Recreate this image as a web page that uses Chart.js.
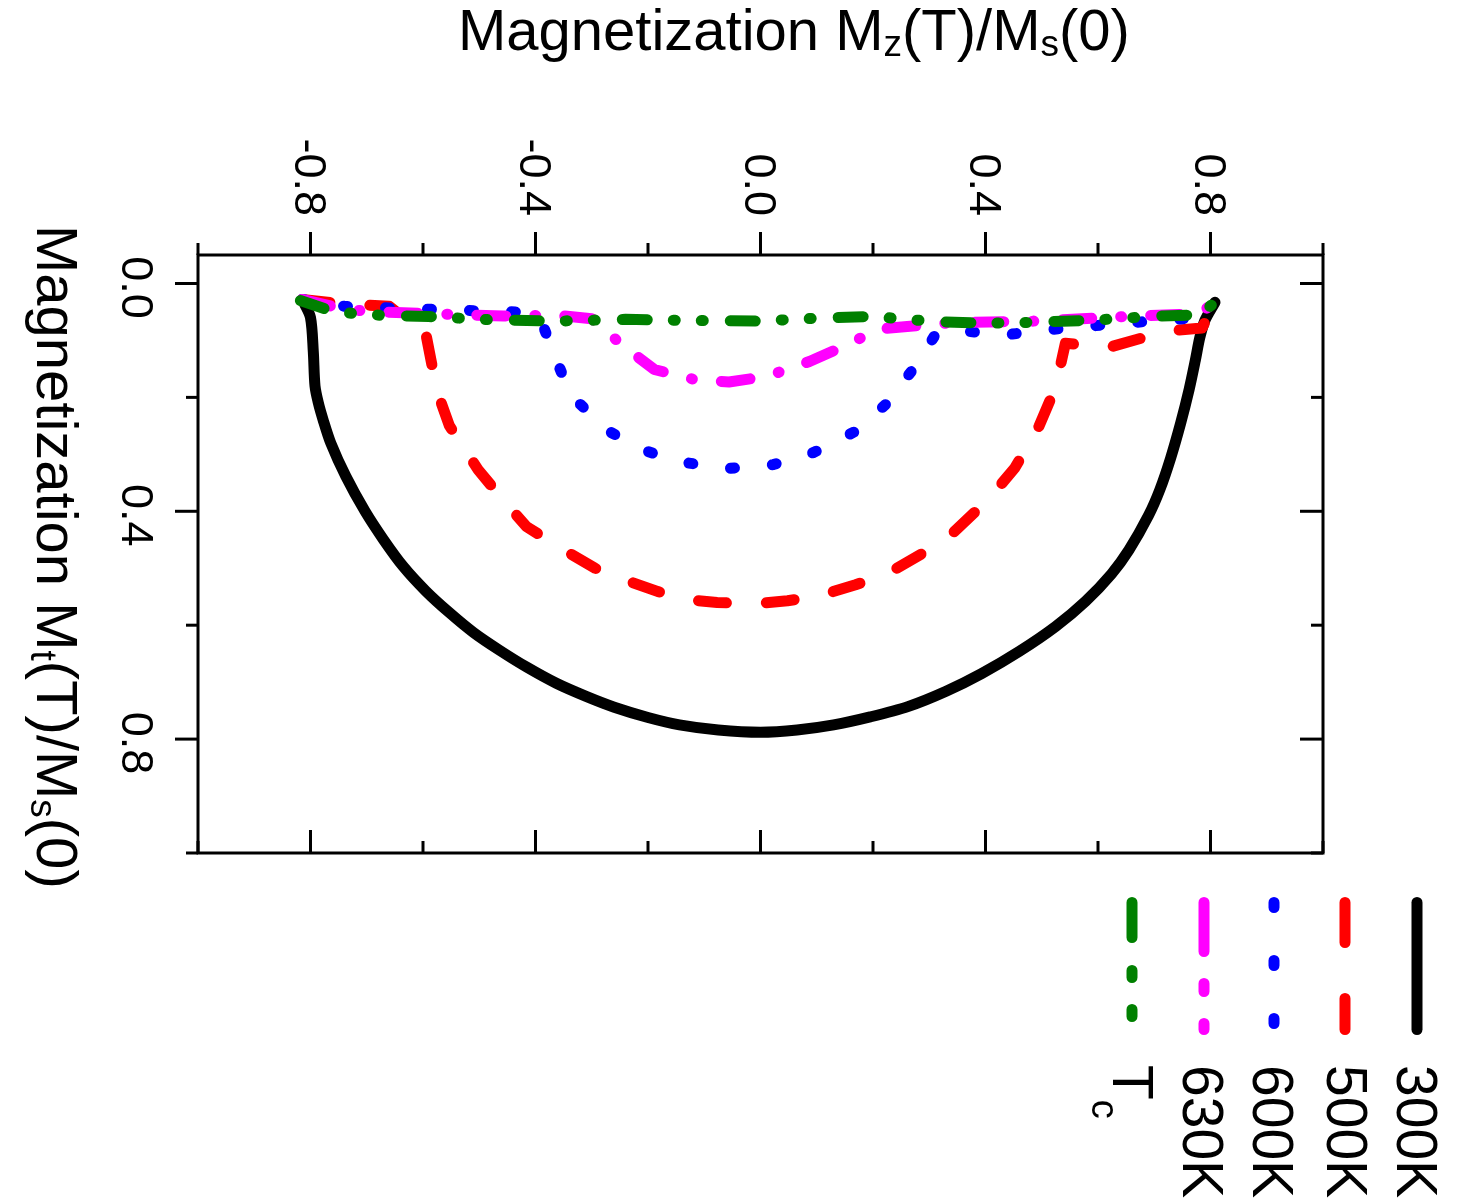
<!DOCTYPE html>
<html>
<head>
<meta charset="utf-8">
<script src="https://cdn.jsdelivr.net/npm/chart.js@4.4.0/dist/chart.umd.min.js"></script>
<style>
  html, body { margin: 0; padding: 0; background: #fff; }
  #c { display: block; }
</style>
</head>
<body>
<canvas id="c" width="1463" height="1203"></canvas>
<script>
// series labels / colours
const seriesLabels = ['300K', '500K', '600K', '630K', 'Tc'];
const seriesColors = ['#000000', '#ff0000', '#0000ff', '#ff00ff', '#008000'];

// M_z (x) and M_t (y)
const mz300 = [-0.812, -0.800, -0.795, -0.792, -0.786, -0.778, -0.764, -0.737, -0.703, -0.670, -0.635, -0.595, -0.553, -0.510, -0.464, -0.415, -0.363, -0.310, -0.260, -0.200, -0.144, -0.075, 0.000, 0.065, 0.130, 0.195, 0.262, 0.330, 0.393, 0.460, 0.525, 0.578, 0.624, 0.655, 0.690, 0.710, 0.729, 0.747, 0.762, 0.773, 0.781, 0.790, 0.808];
const mt300 = [0.033, 0.060, 0.120, 0.180, 0.210, 0.238, 0.280, 0.339, 0.400, 0.450, 0.497, 0.540, 0.578, 0.613, 0.644, 0.674, 0.702, 0.725, 0.744, 0.762, 0.775, 0.784, 0.788, 0.784, 0.775, 0.761, 0.743, 0.716, 0.685, 0.646, 0.602, 0.558, 0.510, 0.468, 0.407, 0.362, 0.307, 0.245, 0.186, 0.135, 0.095, 0.065, 0.033];

const mz500 = [-0.815, -0.740, -0.660, -0.594, -0.575, -0.553, -0.502, -0.461, -0.416, -0.356, -0.294, -0.243, -0.182, -0.124, -0.077, -0.015, 0.048, 0.103, 0.169, 0.225, 0.291, 0.343, 0.407, 0.452, 0.495, 0.525, 0.542, 0.620, 0.720, 0.785, 0.808];
const mt500 = [0.028, 0.036, 0.040, 0.093, 0.189, 0.250, 0.327, 0.376, 0.427, 0.464, 0.500, 0.520, 0.541, 0.556, 0.560, 0.563, 0.557, 0.549, 0.529, 0.510, 0.472, 0.437, 0.377, 0.324, 0.251, 0.181, 0.105, 0.112, 0.084, 0.078, 0.033];

const mz600 = [-0.815, -0.740, -0.600, -0.434, -0.392, -0.369, -0.338, -0.274, -0.210, -0.144, -0.060, 0.023, 0.094, 0.166, 0.229, 0.281, 0.312, 0.367, 0.438, 0.513, 0.584, 0.657, 0.775, 0.808];
const mt600 = [0.028, 0.040, 0.045, 0.050, 0.060, 0.119, 0.195, 0.257, 0.292, 0.313, 0.325, 0.318, 0.297, 0.261, 0.207, 0.137, 0.088, 0.084, 0.090, 0.081, 0.075, 0.069, 0.060, 0.033];

const mz630 = [-0.815, -0.740, -0.683, -0.560, -0.457, -0.360, -0.300, -0.247, -0.189, -0.120, -0.056, 0.012, 0.087, 0.149, 0.210, 0.340, 0.490, 0.650, 0.780, 0.808];
const mt630 = [0.028, 0.045, 0.050, 0.054, 0.057, 0.056, 0.062, 0.107, 0.151, 0.168, 0.173, 0.163, 0.137, 0.110, 0.080, 0.069, 0.066, 0.058, 0.053, 0.033];

const mzTc = [-0.818, -0.761, -0.700, -0.590, -0.475, -0.360, -0.240, -0.130, 0.000, 0.120, 0.200, 0.310, 0.400, 0.490, 0.600, 0.710, 0.780, 0.808];
const mtTc = [0.030, 0.049, 0.055, 0.058, 0.064, 0.066, 0.063, 0.065, 0.066, 0.060, 0.058, 0.067, 0.070, 0.068, 0.064, 0.057, 0.055, 0.033];

// axis ticks
const xTickLabels = ['-0.8', '-0.4', '0.0', '0.4', '0.8'];
const xMinorTicks = [-1.0, -0.6, -0.2, 0.2, 0.6, 1.0];
const yTickLabels = ['0.0', '0.4', '0.8'];
const yMinorTicks = [0.2, 0.6, 1.0];

// dash patterns (plot, legend)
const plotDash = [[], [28, 40], [4, 38], [29, 29, 1, 29], [25, 26, 2, 26, 2, 27]];
const legendDash = [[], [40, 56], [5, 53], [49, 32, 8, 32], [35, 33, 7, 32, 7, 33]];
const curveTension = [0.3, 0, 0, 0, 0];

const FONT = '"Liberation Sans", Arial, Helvetica, sans-serif';

function pts(xs, ys) {
  return xs.map((v, i) => ({ x: v, y: ys[i] }));
}

const allX = [mz300, mz500, mz600, mz630, mzTc];
const allY = [mt300, mt500, mt600, mt630, mtTc];

const datasets = seriesLabels.map((lab, i) => ({
  label: lab,
  data: pts(allX[i], allY[i]),
  borderColor: seriesColors[i],
  borderWidth: 11,
  borderDash: plotDash[i],
  borderCapStyle: 'round',
  borderJoinStyle: 'round',
  pointRadius: 0,
  tension: curveTension[i],
  fill: false,
  order: seriesLabels.length - i
}));

// text with subscripts, drawn at current origin, left aligned on baseline
function richText(ctx, parts, size, subSize, shift) {
  let xx = 0;
  parts.forEach(([t, sub]) => {
    ctx.font = (sub ? subSize : size) + 'px ' + FONT;
    ctx.fillText(t, xx, sub ? shift : 0);
    xx += ctx.measureText(t).width;
  });
}

function line(ctx, x1, y1, x2, y2) {
  ctx.beginPath();
  ctx.moveTo(x1, y1);
  ctx.lineTo(x2, y2);
  ctx.stroke();
}

const decor = {
  id: 'decor',
  afterDatasetsDraw(chart) {
    const { ctx, chartArea: a, scales: { x, y } } = chart;
    ctx.save();
    ctx.strokeStyle = '#000';
    ctx.fillStyle = '#000';
    ctx.lineWidth = 3;
    ctx.lineCap = 'butt';
    ctx.strokeRect(a.left, a.top, a.right - a.left, a.bottom - a.top);

    const MAJ = 23, MIN = 12;
    // x ticks: top outward, bottom inward
    xTickLabels.forEach(l => {
      const px = x.getPixelForValue(parseFloat(l));
      line(ctx, px, a.top, px, a.top - MAJ);
      line(ctx, px, a.bottom, px, a.bottom - MAJ);
    });
    xMinorTicks.forEach(v => {
      const px = x.getPixelForValue(v);
      line(ctx, px, a.top, px, a.top - MIN);
      line(ctx, px, a.bottom, px, a.bottom - MIN);
    });
    // y ticks: left outward, right inward
    yTickLabels.forEach(l => {
      const py = y.getPixelForValue(parseFloat(l));
      line(ctx, a.left, py, a.left - MAJ, py);
      line(ctx, a.right, py, a.right - MAJ, py);
    });
    yMinorTicks.forEach(v => {
      const py = y.getPixelForValue(v);
      line(ctx, a.left, py, a.left - MIN, py);
      line(ctx, a.right, py, a.right - MIN, py);
    });

    // tick labels, rotated clockwise
    ctx.font = '45px ' + FONT;
    xTickLabels.forEach(l => {
      const px = x.getPixelForValue(parseFloat(l));
      ctx.save();
      ctx.translate(px - 16, 216);
      ctx.rotate(Math.PI / 2);
      ctx.textAlign = 'right';
      ctx.textBaseline = 'alphabetic';
      ctx.fillText(l, 0, 0);
      ctx.restore();
    });
    yTickLabels.forEach(l => {
      const py = y.getPixelForValue(parseFloat(l));
      ctx.save();
      ctx.translate(122, py + 4);
      ctx.rotate(Math.PI / 2);
      ctx.textAlign = 'center';
      ctx.textBaseline = 'alphabetic';
      ctx.fillText(l, 0, 0);
      ctx.restore();
    });

    // axis titles
    ctx.textAlign = 'left';
    ctx.textBaseline = 'alphabetic';
    ctx.save();
    ctx.translate(458, 50);
    richText(ctx, [['Magnetization M', false], ['z', true], ['(T)/M', false], ['s', true], ['(0)', false]], 58, 37, 6);
    ctx.restore();
    ctx.save();
    ctx.translate(37, 225);
    ctx.rotate(Math.PI / 2);
    richText(ctx, [['Magnetization M', false], ['t', true], ['(T)/M', false], ['s', true], ['(0)', false]], 58, 37, 6);
    ctx.restore();

    // legend, rotated clockwise
    const legX = [1417, 1345, 1274, 1204, 1132];
    const labX = [1397, 1327, 1253, 1183, 1113];
    chart.data.datasets.forEach((ds, i) => {
      ctx.save();
      ctx.strokeStyle = ds.borderColor;
      ctx.lineWidth = 11;
      ctx.lineCap = 'round';
      ctx.setLineDash(legendDash[i]);
      line(ctx, legX[i], 902.5, legX[i], 1029.5);
      ctx.restore();
      ctx.save();
      ctx.translate(labX[i], 1065);
      ctx.rotate(Math.PI / 2);
      if (ds.label === 'Tc') {
        ctx.font = '57px ' + FONT;
        ctx.fillText('T', 0, 0);
        const w = ctx.measureText('T').width;
        ctx.font = '38px ' + FONT;
        ctx.fillText('c', w, 21);
      } else {
        ctx.font = '57px ' + FONT;
        ctx.fillText(ds.label, 0, 0);
      }
      ctx.restore();
    });
    ctx.restore();
  }
};

new Chart(document.getElementById('c').getContext('2d'), {
  type: 'line',
  data: { datasets },
  options: {
    responsive: false,
    animation: false,
    devicePixelRatio: 1,
    layout: { padding: { left: 198, right: 140, top: 255, bottom: 350 } },
    plugins: { legend: { display: false }, tooltip: { enabled: false }, title: { display: false } },
    scales: {
      x: { type: 'linear', position: 'top', min: -1, max: 1, display: false },
      y: { type: 'linear', min: -0.05, max: 1.0, reverse: true, display: false }
    }
  },
  plugins: [decor]
});
</script>
</body>
</html>
